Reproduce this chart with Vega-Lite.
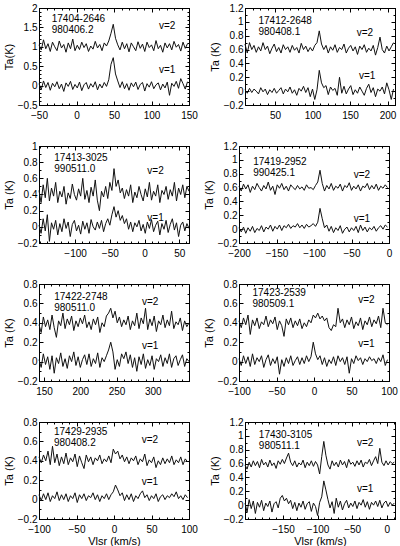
{
"$schema":"https://vega.github.io/schema/vega-lite/v6.json",
"padding":{"left":2,"top":2,"right":2,"bottom":2},
"spacing":19,
"config":{
 "font":"Liberation Sans",
 "view":{"stroke":"black","strokeWidth":1},
 "axis":{"grid":false,"domainColor":"black","tickColor":"black","labelColor":"black","titleColor":"black","labelFontSize":10,"titleFontSize":11,"titleFontWeight":"normal","tickSize":-4,"labelPadding":6,"labelFlush":false,"labelOverlap":false,"titlePadding":3},
 "axisX":{"labelPadding":9,"titlePadding":1},
 "line":{"color":"#111","strokeWidth":1},
 "text":{"fontSize":10,"color":"black","align":"left","font":"Liberation Sans"}
},
"datasets":{
"p1b":[{"x":-50,"y":1.05},{"x":-47,"y":0.92},{"x":-44,"y":1.18},{"x":-41,"y":0.95},{"x":-38,"y":1.08},{"x":-35,"y":0.88},{"x":-32,"y":1.12},{"x":-29,"y":1.0},{"x":-26,"y":0.9},{"x":-23,"y":1.15},{"x":-20,"y":0.97},{"x":-17,"y":1.06},{"x":-14,"y":0.86},{"x":-11,"y":1.1},{"x":-8,"y":0.95},{"x":-5,"y":1.2},{"x":-2,"y":0.9},{"x":1,"y":1.04},{"x":4,"y":0.93},{"x":7,"y":1.12},{"x":10,"y":0.98},{"x":13,"y":1.08},{"x":16,"y":0.88},{"x":19,"y":1.02},{"x":22,"y":0.94},{"x":25,"y":1.14},{"x":28,"y":0.97},{"x":31,"y":1.06},{"x":34,"y":0.9},{"x":37,"y":1.1},{"x":40,"y":1.02},{"x":43,"y":1.15},{"x":46,"y":1.35},{"x":49,"y":1.58},{"x":52,"y":1.22},{"x":55,"y":1.05},{"x":58,"y":0.92},{"x":61,"y":1.12},{"x":64,"y":0.95},{"x":67,"y":1.08},{"x":70,"y":0.87},{"x":73,"y":1.1},{"x":76,"y":1.0},{"x":79,"y":0.9},{"x":82,"y":1.13},{"x":85,"y":0.96},{"x":88,"y":1.07},{"x":91,"y":0.88},{"x":94,"y":1.12},{"x":97,"y":0.98},{"x":100,"y":1.05},{"x":103,"y":0.9},{"x":106,"y":1.16},{"x":109,"y":0.95},{"x":112,"y":1.04},{"x":115,"y":0.86},{"x":118,"y":1.1},{"x":121,"y":0.97},{"x":124,"y":1.08},{"x":127,"y":0.92},{"x":130,"y":1.14},{"x":133,"y":0.99},{"x":136,"y":1.06},{"x":139,"y":0.89},{"x":142,"y":1.12},{"x":145,"y":0.96},{"x":148,"y":1.08}],
"p1a":[{"x":-50,"y":0.05},{"x":-47,"y":-0.1},{"x":-44,"y":0.12},{"x":-41,"y":-0.05},{"x":-38,"y":0.08},{"x":-35,"y":-0.12},{"x":-32,"y":0.06},{"x":-29,"y":-0.03},{"x":-26,"y":0.1},{"x":-23,"y":-0.08},{"x":-20,"y":0.04},{"x":-17,"y":-0.15},{"x":-14,"y":0.07},{"x":-11,"y":-0.02},{"x":-8,"y":0.11},{"x":-5,"y":-0.1},{"x":-2,"y":0.03},{"x":1,"y":-0.06},{"x":4,"y":0.09},{"x":7,"y":-0.13},{"x":10,"y":0.02},{"x":13,"y":0.08},{"x":16,"y":-0.09},{"x":19,"y":0.05},{"x":22,"y":-0.04},{"x":25,"y":0.1},{"x":28,"y":-0.11},{"x":31,"y":0.04},{"x":34,"y":-0.06},{"x":37,"y":0.08},{"x":40,"y":-0.02},{"x":43,"y":0.15},{"x":46,"y":0.55},{"x":49,"y":0.72},{"x":52,"y":0.3},{"x":55,"y":0.12},{"x":58,"y":-0.05},{"x":61,"y":0.1},{"x":64,"y":-0.08},{"x":67,"y":0.05},{"x":70,"y":-0.12},{"x":73,"y":0.07},{"x":76,"y":-0.03},{"x":79,"y":0.09},{"x":82,"y":-0.1},{"x":85,"y":0.03},{"x":88,"y":0.08},{"x":91,"y":-0.14},{"x":94,"y":0.05},{"x":97,"y":-0.04},{"x":100,"y":0.1},{"x":103,"y":-0.08},{"x":106,"y":0.02},{"x":109,"y":0.07},{"x":112,"y":-0.11},{"x":115,"y":0.04},{"x":118,"y":-0.06},{"x":121,"y":0.09},{"x":124,"y":-0.25},{"x":127,"y":0.06},{"x":130,"y":-0.02},{"x":133,"y":0.11},{"x":136,"y":-0.07},{"x":139,"y":0.18},{"x":142,"y":0.05},{"x":145,"y":-0.09},{"x":148,"y":0.1}],
"p2b":[{"x":10,"y":0.68},{"x":13,"y":0.55},{"x":16,"y":0.7},{"x":19,"y":0.6},{"x":22,"y":0.66},{"x":25,"y":0.56},{"x":28,"y":0.64},{"x":31,"y":0.58},{"x":34,"y":0.7},{"x":37,"y":0.6},{"x":40,"y":0.65},{"x":43,"y":0.54},{"x":46,"y":0.62},{"x":49,"y":0.68},{"x":52,"y":0.57},{"x":55,"y":0.63},{"x":58,"y":0.55},{"x":61,"y":0.67},{"x":64,"y":0.6},{"x":67,"y":0.64},{"x":70,"y":0.56},{"x":73,"y":0.66},{"x":76,"y":0.59},{"x":79,"y":0.63},{"x":82,"y":0.55},{"x":85,"y":0.69},{"x":88,"y":0.6},{"x":91,"y":0.65},{"x":94,"y":0.57},{"x":97,"y":0.63},{"x":100,"y":0.58},{"x":103,"y":0.66},{"x":106,"y":0.7},{"x":109,"y":0.87},{"x":112,"y":0.68},{"x":115,"y":0.6},{"x":118,"y":0.66},{"x":121,"y":0.55},{"x":124,"y":0.64},{"x":127,"y":0.59},{"x":130,"y":0.67},{"x":133,"y":0.56},{"x":136,"y":0.63},{"x":139,"y":0.6},{"x":142,"y":0.68},{"x":145,"y":0.55},{"x":148,"y":0.62},{"x":151,"y":0.66},{"x":154,"y":0.58},{"x":157,"y":0.64},{"x":160,"y":0.53},{"x":163,"y":0.65},{"x":166,"y":0.6},{"x":169,"y":0.67},{"x":172,"y":0.56},{"x":175,"y":0.62},{"x":178,"y":0.58},{"x":181,"y":0.66},{"x":184,"y":0.52},{"x":187,"y":0.63},{"x":190,"y":0.78},{"x":193,"y":0.6},{"x":196,"y":0.55},{"x":199,"y":0.65},{"x":202,"y":0.58},{"x":205,"y":0.64},{"x":208,"y":0.7}],
"p2a":[{"x":10,"y":0.02},{"x":13,"y":-0.03},{"x":16,"y":0.04},{"x":19,"y":-0.02},{"x":22,"y":0.03},{"x":25,"y":0.0},{"x":28,"y":-0.04},{"x":31,"y":0.05},{"x":34,"y":-0.01},{"x":37,"y":0.03},{"x":40,"y":-0.05},{"x":43,"y":0.02},{"x":46,"y":-0.02},{"x":49,"y":0.04},{"x":52,"y":-0.03},{"x":55,"y":0.01},{"x":58,"y":0.05},{"x":61,"y":-0.04},{"x":64,"y":0.03},{"x":67,"y":-0.01},{"x":70,"y":0.06},{"x":73,"y":-0.03},{"x":76,"y":0.02},{"x":79,"y":-0.06},{"x":82,"y":0.04},{"x":85,"y":0.0},{"x":88,"y":0.07},{"x":91,"y":-0.02},{"x":94,"y":0.05},{"x":97,"y":-0.08},{"x":100,"y":0.03},{"x":103,"y":-0.12},{"x":106,"y":0.02},{"x":109,"y":0.3},{"x":112,"y":0.12},{"x":115,"y":0.05},{"x":118,"y":0.08},{"x":121,"y":-0.05},{"x":124,"y":0.06},{"x":127,"y":0.01},{"x":130,"y":0.04},{"x":133,"y":-0.06},{"x":136,"y":0.2},{"x":139,"y":-0.03},{"x":142,"y":0.07},{"x":145,"y":-0.04},{"x":148,"y":0.03},{"x":151,"y":0.08},{"x":154,"y":-0.05},{"x":157,"y":0.02},{"x":160,"y":-0.03},{"x":163,"y":0.06},{"x":166,"y":0.0},{"x":169,"y":-0.06},{"x":172,"y":0.04},{"x":175,"y":0.1},{"x":178,"y":-0.02},{"x":181,"y":0.05},{"x":184,"y":-0.08},{"x":187,"y":0.03},{"x":190,"y":0.0},{"x":193,"y":0.06},{"x":196,"y":-0.04},{"x":199,"y":0.12},{"x":202,"y":0.02},{"x":205,"y":-0.12},{"x":208,"y":0.03}],
"p3b":[{"x":-152,"y":0.45},{"x":-149,"y":0.3},{"x":-146,"y":0.52},{"x":-143,"y":0.36},{"x":-140,"y":0.6},{"x":-137,"y":0.32},{"x":-134,"y":0.48},{"x":-131,"y":0.38},{"x":-128,"y":0.55},{"x":-125,"y":0.3},{"x":-122,"y":0.44},{"x":-119,"y":0.37},{"x":-116,"y":0.5},{"x":-113,"y":0.28},{"x":-110,"y":0.42},{"x":-107,"y":0.35},{"x":-104,"y":0.53},{"x":-101,"y":0.4},{"x":-98,"y":0.33},{"x":-95,"y":0.47},{"x":-92,"y":0.38},{"x":-89,"y":0.6},{"x":-86,"y":0.34},{"x":-83,"y":0.45},{"x":-80,"y":0.3},{"x":-77,"y":0.49},{"x":-74,"y":0.38},{"x":-71,"y":0.58},{"x":-68,"y":0.33},{"x":-65,"y":0.2},{"x":-62,"y":0.44},{"x":-59,"y":0.37},{"x":-56,"y":0.5},{"x":-53,"y":0.35},{"x":-50,"y":0.55},{"x":-47,"y":0.45},{"x":-44,"y":0.72},{"x":-41,"y":0.5},{"x":-38,"y":0.58},{"x":-35,"y":0.42},{"x":-32,"y":0.48},{"x":-29,"y":0.35},{"x":-26,"y":0.46},{"x":-23,"y":0.38},{"x":-20,"y":0.52},{"x":-17,"y":0.3},{"x":-14,"y":0.43},{"x":-11,"y":0.36},{"x":-8,"y":0.5},{"x":-5,"y":0.4},{"x":-2,"y":0.32},{"x":1,"y":0.47},{"x":4,"y":0.37},{"x":7,"y":0.55},{"x":10,"y":0.33},{"x":13,"y":0.44},{"x":16,"y":0.38},{"x":19,"y":0.52},{"x":22,"y":0.3},{"x":25,"y":0.45},{"x":28,"y":0.4},{"x":31,"y":0.5},{"x":34,"y":0.34},{"x":37,"y":0.46},{"x":40,"y":0.38},{"x":43,"y":0.55},{"x":46,"y":0.32},{"x":49,"y":0.48},{"x":52,"y":0.4},{"x":55,"y":0.52},{"x":58,"y":0.36},{"x":61,"y":0.5},{"x":64,"y":0.44}],
"p3a":[{"x":-152,"y":0.02},{"x":-149,"y":-0.08},{"x":-146,"y":0.1},{"x":-143,"y":-0.05},{"x":-140,"y":0.15},{"x":-137,"y":-0.18},{"x":-134,"y":0.05},{"x":-131,"y":-0.03},{"x":-128,"y":0.08},{"x":-125,"y":-0.1},{"x":-122,"y":0.04},{"x":-119,"y":-0.06},{"x":-116,"y":0.1},{"x":-113,"y":-0.02},{"x":-110,"y":0.06},{"x":-107,"y":-0.12},{"x":-104,"y":0.03},{"x":-101,"y":0.08},{"x":-98,"y":-0.05},{"x":-95,"y":0.02},{"x":-92,"y":-0.09},{"x":-89,"y":0.07},{"x":-86,"y":-0.03},{"x":-83,"y":0.05},{"x":-80,"y":-0.08},{"x":-77,"y":0.09},{"x":-74,"y":0.0},{"x":-71,"y":-0.04},{"x":-68,"y":0.06},{"x":-65,"y":-0.02},{"x":-62,"y":0.08},{"x":-59,"y":-0.06},{"x":-56,"y":0.04},{"x":-53,"y":0.1},{"x":-50,"y":0.02},{"x":-47,"y":0.15},{"x":-44,"y":0.25},{"x":-41,"y":0.12},{"x":-38,"y":0.2},{"x":-35,"y":0.08},{"x":-32,"y":0.14},{"x":-29,"y":0.04},{"x":-26,"y":0.1},{"x":-23,"y":-0.03},{"x":-20,"y":0.06},{"x":-17,"y":-0.06},{"x":-14,"y":0.05},{"x":-11,"y":0.0},{"x":-8,"y":0.08},{"x":-5,"y":-0.05},{"x":-2,"y":0.03},{"x":1,"y":-0.08},{"x":4,"y":0.06},{"x":7,"y":-0.02},{"x":10,"y":0.09},{"x":13,"y":-0.06},{"x":16,"y":0.02},{"x":19,"y":0.07},{"x":22,"y":-0.1},{"x":25,"y":0.04},{"x":28,"y":-0.03},{"x":31,"y":0.08},{"x":34,"y":-0.07},{"x":37,"y":0.03},{"x":40,"y":0.1},{"x":43,"y":-0.04},{"x":46,"y":0.05},{"x":49,"y":-0.12},{"x":52,"y":0.02},{"x":55,"y":0.06},{"x":58,"y":-0.05},{"x":61,"y":0.04},{"x":64,"y":-0.02}],
"p4b":[{"x":-200,"y":0.62},{"x":-197,"y":0.55},{"x":-194,"y":0.65},{"x":-191,"y":0.58},{"x":-188,"y":0.64},{"x":-185,"y":0.53},{"x":-182,"y":0.62},{"x":-179,"y":0.57},{"x":-176,"y":0.66},{"x":-173,"y":0.6},{"x":-170,"y":0.55},{"x":-167,"y":0.63},{"x":-164,"y":0.58},{"x":-161,"y":0.68},{"x":-158,"y":0.56},{"x":-155,"y":0.62},{"x":-152,"y":0.5},{"x":-149,"y":0.64},{"x":-146,"y":0.59},{"x":-143,"y":0.66},{"x":-140,"y":0.57},{"x":-137,"y":0.62},{"x":-134,"y":0.55},{"x":-131,"y":0.64},{"x":-128,"y":0.6},{"x":-125,"y":0.57},{"x":-122,"y":0.63},{"x":-119,"y":0.58},{"x":-116,"y":0.61},{"x":-113,"y":0.56},{"x":-110,"y":0.64},{"x":-107,"y":0.59},{"x":-104,"y":0.6},{"x":-101,"y":0.57},{"x":-98,"y":0.63},{"x":-95,"y":0.68},{"x":-92,"y":0.85},{"x":-89,"y":0.66},{"x":-86,"y":0.55},{"x":-83,"y":0.63},{"x":-80,"y":0.58},{"x":-77,"y":0.66},{"x":-74,"y":0.56},{"x":-71,"y":0.62},{"x":-68,"y":0.59},{"x":-65,"y":0.65},{"x":-62,"y":0.55},{"x":-59,"y":0.63},{"x":-56,"y":0.6},{"x":-53,"y":0.67},{"x":-50,"y":0.56},{"x":-47,"y":0.62},{"x":-44,"y":0.58},{"x":-41,"y":0.64},{"x":-38,"y":0.55},{"x":-35,"y":0.62},{"x":-32,"y":0.6},{"x":-29,"y":0.66},{"x":-26,"y":0.57},{"x":-23,"y":0.63},{"x":-20,"y":0.58},{"x":-17,"y":0.65},{"x":-14,"y":0.56},{"x":-11,"y":0.62},{"x":-8,"y":0.59},{"x":-5,"y":0.64},{"x":-2,"y":0.6}],
"p4a":[{"x":-200,"y":0.02},{"x":-197,"y":-0.04},{"x":-194,"y":0.03},{"x":-191,"y":-0.06},{"x":-188,"y":0.02},{"x":-185,"y":-0.03},{"x":-182,"y":0.04},{"x":-179,"y":-0.05},{"x":-176,"y":0.01},{"x":-173,"y":-0.02},{"x":-170,"y":0.05},{"x":-167,"y":-0.04},{"x":-164,"y":0.03},{"x":-161,"y":0.0},{"x":-158,"y":0.06},{"x":-155,"y":-0.03},{"x":-152,"y":0.04},{"x":-149,"y":0.0},{"x":-146,"y":0.06},{"x":-143,"y":-0.02},{"x":-140,"y":0.05},{"x":-137,"y":0.02},{"x":-134,"y":0.07},{"x":-131,"y":0.01},{"x":-128,"y":0.05},{"x":-125,"y":0.03},{"x":-122,"y":0.08},{"x":-119,"y":0.02},{"x":-116,"y":0.06},{"x":-113,"y":0.01},{"x":-110,"y":0.07},{"x":-107,"y":0.03},{"x":-104,"y":0.05},{"x":-101,"y":0.08},{"x":-98,"y":0.04},{"x":-95,"y":0.1},{"x":-92,"y":0.3},{"x":-89,"y":0.15},{"x":-86,"y":0.02},{"x":-83,"y":0.06},{"x":-80,"y":-0.03},{"x":-77,"y":0.04},{"x":-74,"y":-0.05},{"x":-71,"y":0.02},{"x":-68,"y":-0.02},{"x":-65,"y":0.05},{"x":-62,"y":-0.06},{"x":-59,"y":0.0},{"x":-56,"y":0.03},{"x":-53,"y":-0.04},{"x":-50,"y":0.02},{"x":-47,"y":-0.02},{"x":-44,"y":0.04},{"x":-41,"y":-0.05},{"x":-38,"y":0.06},{"x":-35,"y":-0.02},{"x":-32,"y":0.03},{"x":-29,"y":-0.04},{"x":-26,"y":0.02},{"x":-23,"y":-0.01},{"x":-20,"y":0.04},{"x":-17,"y":-0.03},{"x":-14,"y":0.02},{"x":-11,"y":0.05},{"x":-8,"y":0.0},{"x":-5,"y":0.06},{"x":-2,"y":0.03}],
"p5b":[{"x":143,"y":0.38},{"x":146,"y":0.3},{"x":149,"y":0.46},{"x":152,"y":0.36},{"x":155,"y":0.43},{"x":158,"y":0.33},{"x":161,"y":0.48},{"x":164,"y":0.35},{"x":167,"y":0.25},{"x":170,"y":0.42},{"x":173,"y":0.37},{"x":176,"y":0.5},{"x":179,"y":0.34},{"x":182,"y":0.44},{"x":185,"y":0.38},{"x":188,"y":0.47},{"x":191,"y":0.32},{"x":194,"y":0.42},{"x":197,"y":0.36},{"x":200,"y":0.45},{"x":203,"y":0.39},{"x":206,"y":0.48},{"x":209,"y":0.35},{"x":212,"y":0.41},{"x":215,"y":0.33},{"x":218,"y":0.44},{"x":221,"y":0.38},{"x":224,"y":0.46},{"x":227,"y":0.3},{"x":230,"y":0.4},{"x":233,"y":0.36},{"x":236,"y":0.47},{"x":239,"y":0.5},{"x":242,"y":0.55},{"x":245,"y":0.45},{"x":248,"y":0.52},{"x":251,"y":0.4},{"x":254,"y":0.46},{"x":257,"y":0.36},{"x":260,"y":0.43},{"x":263,"y":0.38},{"x":266,"y":0.47},{"x":269,"y":0.33},{"x":272,"y":0.42},{"x":275,"y":0.37},{"x":278,"y":0.5},{"x":281,"y":0.34},{"x":284,"y":0.45},{"x":287,"y":0.39},{"x":290,"y":0.55},{"x":293,"y":0.33},{"x":296,"y":0.44},{"x":299,"y":0.37},{"x":302,"y":0.47},{"x":305,"y":0.31},{"x":308,"y":0.42},{"x":311,"y":0.38},{"x":314,"y":0.48},{"x":317,"y":0.35},{"x":320,"y":0.43},{"x":323,"y":0.37},{"x":326,"y":0.52},{"x":329,"y":0.34},{"x":332,"y":0.41},{"x":335,"y":0.38},{"x":338,"y":0.45},{"x":341,"y":0.32},{"x":344,"y":0.42},{"x":347,"y":0.36},{"x":350,"y":0.4}],
"p5a":[{"x":143,"y":0.02},{"x":146,"y":-0.06},{"x":149,"y":0.08},{"x":152,"y":-0.03},{"x":155,"y":0.05},{"x":158,"y":-0.08},{"x":161,"y":0.06},{"x":164,"y":-0.12},{"x":167,"y":0.04},{"x":170,"y":-0.02},{"x":173,"y":0.09},{"x":176,"y":-0.05},{"x":179,"y":0.03},{"x":182,"y":-0.07},{"x":185,"y":0.06},{"x":188,"y":0.0},{"x":191,"y":0.1},{"x":194,"y":-0.04},{"x":197,"y":0.05},{"x":200,"y":-0.06},{"x":203,"y":0.02},{"x":206,"y":0.07},{"x":209,"y":-0.03},{"x":212,"y":0.08},{"x":215,"y":-0.05},{"x":218,"y":0.03},{"x":221,"y":-0.02},{"x":224,"y":0.09},{"x":227,"y":-0.06},{"x":230,"y":0.04},{"x":233,"y":0.0},{"x":236,"y":0.06},{"x":239,"y":0.12},{"x":242,"y":0.2},{"x":245,"y":0.1},{"x":248,"y":-0.08},{"x":251,"y":0.02},{"x":254,"y":-0.05},{"x":257,"y":0.08},{"x":260,"y":0.03},{"x":263,"y":0.1},{"x":266,"y":-0.02},{"x":269,"y":0.07},{"x":272,"y":-0.06},{"x":275,"y":0.04},{"x":278,"y":-0.1},{"x":281,"y":0.05},{"x":284,"y":-0.03},{"x":287,"y":0.08},{"x":290,"y":-0.07},{"x":293,"y":0.02},{"x":296,"y":-0.04},{"x":299,"y":0.06},{"x":302,"y":-0.08},{"x":305,"y":0.03},{"x":308,"y":0.0},{"x":311,"y":0.07},{"x":314,"y":-0.05},{"x":317,"y":0.04},{"x":320,"y":-0.02},{"x":323,"y":0.08},{"x":326,"y":-0.06},{"x":329,"y":0.03},{"x":332,"y":0.06},{"x":335,"y":-0.04},{"x":338,"y":0.02},{"x":341,"y":0.07},{"x":344,"y":-0.05},{"x":347,"y":0.03},{"x":350,"y":0.0}],
"p6b":[{"x":-100,"y":0.42},{"x":-97,"y":0.35},{"x":-94,"y":0.45},{"x":-91,"y":0.38},{"x":-88,"y":0.48},{"x":-85,"y":0.28},{"x":-82,"y":0.43},{"x":-79,"y":0.37},{"x":-76,"y":0.45},{"x":-73,"y":0.34},{"x":-70,"y":0.41},{"x":-67,"y":0.38},{"x":-64,"y":0.47},{"x":-61,"y":0.36},{"x":-58,"y":0.43},{"x":-55,"y":0.39},{"x":-52,"y":0.46},{"x":-49,"y":0.33},{"x":-46,"y":0.42},{"x":-43,"y":0.37},{"x":-40,"y":0.26},{"x":-37,"y":0.44},{"x":-34,"y":0.38},{"x":-31,"y":0.45},{"x":-28,"y":0.35},{"x":-25,"y":0.42},{"x":-22,"y":0.37},{"x":-19,"y":0.44},{"x":-16,"y":0.34},{"x":-13,"y":0.4},{"x":-10,"y":0.36},{"x":-7,"y":0.43},{"x":-4,"y":0.4},{"x":-1,"y":0.48},{"x":2,"y":0.45},{"x":5,"y":0.5},{"x":8,"y":0.44},{"x":11,"y":0.47},{"x":14,"y":0.42},{"x":17,"y":0.45},{"x":20,"y":0.35},{"x":23,"y":0.32},{"x":26,"y":0.38},{"x":29,"y":0.36},{"x":32,"y":0.55},{"x":35,"y":0.4},{"x":38,"y":0.44},{"x":41,"y":0.35},{"x":44,"y":0.43},{"x":47,"y":0.38},{"x":50,"y":0.46},{"x":53,"y":0.34},{"x":56,"y":0.41},{"x":59,"y":0.37},{"x":62,"y":0.45},{"x":65,"y":0.33},{"x":68,"y":0.42},{"x":71,"y":0.38},{"x":74,"y":0.46},{"x":77,"y":0.36},{"x":80,"y":0.43},{"x":83,"y":0.39},{"x":86,"y":0.47},{"x":89,"y":0.35},{"x":92,"y":0.55},{"x":95,"y":0.4},{"x":98,"y":0.38}],
"p6a":[{"x":-100,"y":0.03},{"x":-97,"y":-0.04},{"x":-94,"y":0.06},{"x":-91,"y":-0.02},{"x":-88,"y":0.05},{"x":-85,"y":-0.05},{"x":-82,"y":0.08},{"x":-79,"y":-0.03},{"x":-76,"y":0.04},{"x":-73,"y":0.0},{"x":-70,"y":0.06},{"x":-67,"y":-0.06},{"x":-64,"y":0.02},{"x":-61,"y":0.07},{"x":-58,"y":-0.04},{"x":-55,"y":0.03},{"x":-52,"y":-0.02},{"x":-49,"y":0.05},{"x":-46,"y":-0.13},{"x":-43,"y":0.02},{"x":-40,"y":-0.05},{"x":-37,"y":0.04},{"x":-34,"y":-0.02},{"x":-31,"y":0.06},{"x":-28,"y":-0.04},{"x":-25,"y":0.01},{"x":-22,"y":0.05},{"x":-19,"y":-0.03},{"x":-16,"y":0.04},{"x":-13,"y":-0.02},{"x":-10,"y":0.06},{"x":-7,"y":0.0},{"x":-4,"y":0.05},{"x":-1,"y":0.2},{"x":2,"y":0.08},{"x":5,"y":0.02},{"x":8,"y":0.06},{"x":11,"y":-0.03},{"x":14,"y":0.04},{"x":17,"y":-0.05},{"x":20,"y":0.02},{"x":23,"y":-0.02},{"x":26,"y":0.05},{"x":29,"y":-0.04},{"x":32,"y":0.06},{"x":35,"y":0.0},{"x":38,"y":0.04},{"x":41,"y":-0.03},{"x":44,"y":0.05},{"x":47,"y":-0.12},{"x":50,"y":0.03},{"x":53,"y":-0.02},{"x":56,"y":0.06},{"x":59,"y":0.01},{"x":62,"y":0.04},{"x":65,"y":-0.03},{"x":68,"y":0.03},{"x":71,"y":0.0},{"x":74,"y":0.05},{"x":77,"y":0.01},{"x":80,"y":0.03},{"x":83,"y":-0.02},{"x":86,"y":0.04},{"x":89,"y":0.0},{"x":92,"y":0.07},{"x":95,"y":-0.04},{"x":98,"y":0.02}],
"p7b":[{"x":-100,"y":0.44},{"x":-97,"y":0.38},{"x":-94,"y":0.46},{"x":-91,"y":0.4},{"x":-88,"y":0.5},{"x":-85,"y":0.36},{"x":-82,"y":0.55},{"x":-79,"y":0.38},{"x":-76,"y":0.47},{"x":-73,"y":0.35},{"x":-70,"y":0.44},{"x":-67,"y":0.37},{"x":-64,"y":0.48},{"x":-61,"y":0.36},{"x":-58,"y":0.43},{"x":-55,"y":0.39},{"x":-52,"y":0.47},{"x":-49,"y":0.34},{"x":-46,"y":0.45},{"x":-43,"y":0.38},{"x":-40,"y":0.32},{"x":-37,"y":0.46},{"x":-34,"y":0.39},{"x":-31,"y":0.44},{"x":-28,"y":0.36},{"x":-25,"y":0.43},{"x":-22,"y":0.4},{"x":-19,"y":0.46},{"x":-16,"y":0.37},{"x":-13,"y":0.42},{"x":-10,"y":0.39},{"x":-7,"y":0.45},{"x":-4,"y":0.38},{"x":-1,"y":0.52},{"x":2,"y":0.47},{"x":5,"y":0.5},{"x":8,"y":0.42},{"x":11,"y":0.46},{"x":14,"y":0.39},{"x":17,"y":0.44},{"x":20,"y":0.37},{"x":23,"y":0.43},{"x":26,"y":0.4},{"x":29,"y":0.45},{"x":32,"y":0.36},{"x":35,"y":0.42},{"x":38,"y":0.39},{"x":41,"y":0.47},{"x":44,"y":0.35},{"x":47,"y":0.41},{"x":50,"y":0.38},{"x":53,"y":0.44},{"x":56,"y":0.33},{"x":59,"y":0.4},{"x":62,"y":0.36},{"x":65,"y":0.43},{"x":68,"y":0.37},{"x":71,"y":0.42},{"x":74,"y":0.38},{"x":77,"y":0.45},{"x":80,"y":0.36},{"x":83,"y":0.41},{"x":86,"y":0.38},{"x":89,"y":0.44},{"x":92,"y":0.36},{"x":95,"y":0.42},{"x":98,"y":0.39}],
"p7a":[{"x":-100,"y":0.05},{"x":-97,"y":-0.01},{"x":-94,"y":0.06},{"x":-91,"y":0.0},{"x":-88,"y":0.07},{"x":-85,"y":-0.02},{"x":-82,"y":0.04},{"x":-79,"y":0.01},{"x":-76,"y":0.08},{"x":-73,"y":-0.01},{"x":-70,"y":0.05},{"x":-67,"y":0.0},{"x":-64,"y":0.06},{"x":-61,"y":-0.02},{"x":-58,"y":0.04},{"x":-55,"y":0.01},{"x":-52,"y":0.07},{"x":-49,"y":-0.03},{"x":-46,"y":0.05},{"x":-43,"y":0.01},{"x":-40,"y":0.06},{"x":-37,"y":-0.01},{"x":-34,"y":0.04},{"x":-31,"y":0.02},{"x":-28,"y":0.07},{"x":-25,"y":0.0},{"x":-22,"y":0.05},{"x":-19,"y":-0.02},{"x":-16,"y":0.04},{"x":-13,"y":0.01},{"x":-10,"y":0.06},{"x":-7,"y":0.0},{"x":-4,"y":0.05},{"x":-1,"y":0.08},{"x":2,"y":0.15},{"x":5,"y":0.1},{"x":8,"y":0.04},{"x":11,"y":0.07},{"x":14,"y":-0.01},{"x":17,"y":0.05},{"x":20,"y":0.0},{"x":23,"y":0.06},{"x":26,"y":-0.02},{"x":29,"y":0.04},{"x":32,"y":0.01},{"x":35,"y":0.06},{"x":38,"y":0.09},{"x":41,"y":0.02},{"x":44,"y":0.05},{"x":47,"y":-0.01},{"x":50,"y":0.04},{"x":53,"y":0.01},{"x":56,"y":0.06},{"x":59,"y":-0.02},{"x":62,"y":0.03},{"x":65,"y":0.05},{"x":68,"y":0.0},{"x":71,"y":0.04},{"x":74,"y":0.02},{"x":77,"y":0.06},{"x":80,"y":0.03},{"x":83,"y":0.08},{"x":86,"y":0.01},{"x":89,"y":0.04},{"x":92,"y":0.0},{"x":95,"y":0.05},{"x":98,"y":0.02}],
"p8b":[{"x":-205,"y":0.58},{"x":-202,"y":0.52},{"x":-199,"y":0.62},{"x":-196,"y":0.55},{"x":-193,"y":0.64},{"x":-190,"y":0.57},{"x":-187,"y":0.63},{"x":-184,"y":0.54},{"x":-181,"y":0.66},{"x":-178,"y":0.58},{"x":-175,"y":0.62},{"x":-172,"y":0.55},{"x":-169,"y":0.65},{"x":-166,"y":0.57},{"x":-163,"y":0.61},{"x":-160,"y":0.53},{"x":-157,"y":0.64},{"x":-154,"y":0.59},{"x":-151,"y":0.66},{"x":-148,"y":0.6},{"x":-145,"y":0.68},{"x":-142,"y":0.75},{"x":-139,"y":0.62},{"x":-136,"y":0.57},{"x":-133,"y":0.64},{"x":-130,"y":0.55},{"x":-127,"y":0.61},{"x":-124,"y":0.58},{"x":-121,"y":0.65},{"x":-118,"y":0.54},{"x":-115,"y":0.62},{"x":-112,"y":0.57},{"x":-109,"y":0.64},{"x":-106,"y":0.56},{"x":-103,"y":0.63},{"x":-100,"y":0.58},{"x":-97,"y":0.45},{"x":-94,"y":0.7},{"x":-91,"y":0.92},{"x":-88,"y":0.72},{"x":-85,"y":0.58},{"x":-82,"y":0.52},{"x":-79,"y":0.64},{"x":-76,"y":0.57},{"x":-73,"y":0.62},{"x":-70,"y":0.55},{"x":-67,"y":0.65},{"x":-64,"y":0.58},{"x":-61,"y":0.63},{"x":-58,"y":0.54},{"x":-55,"y":0.66},{"x":-52,"y":0.59},{"x":-49,"y":0.62},{"x":-46,"y":0.56},{"x":-43,"y":0.64},{"x":-40,"y":0.58},{"x":-37,"y":0.65},{"x":-34,"y":0.55},{"x":-31,"y":0.62},{"x":-28,"y":0.6},{"x":-25,"y":0.66},{"x":-22,"y":0.57},{"x":-19,"y":0.64},{"x":-16,"y":0.7},{"x":-13,"y":0.6},{"x":-10,"y":0.82},{"x":-7,"y":0.62},{"x":-4,"y":0.57},{"x":-1,"y":0.64},{"x":2,"y":0.58},{"x":5,"y":0.63},{"x":8,"y":0.6},{"x":11,"y":0.62}],
"p8a":[{"x":-205,"y":0.03},{"x":-202,"y":-0.1},{"x":-199,"y":0.08},{"x":-196,"y":-0.05},{"x":-193,"y":0.06},{"x":-190,"y":-0.12},{"x":-187,"y":0.04},{"x":-184,"y":-0.03},{"x":-181,"y":0.07},{"x":-178,"y":-0.08},{"x":-175,"y":0.03},{"x":-172,"y":-0.02},{"x":-169,"y":0.06},{"x":-166,"y":-0.1},{"x":-163,"y":0.02},{"x":-160,"y":0.05},{"x":-157,"y":-0.04},{"x":-154,"y":0.1},{"x":-151,"y":0.14},{"x":-148,"y":0.06},{"x":-145,"y":0.1},{"x":-142,"y":0.02},{"x":-139,"y":0.07},{"x":-136,"y":-0.05},{"x":-133,"y":0.04},{"x":-130,"y":-0.08},{"x":-127,"y":0.03},{"x":-124,"y":-0.03},{"x":-121,"y":0.06},{"x":-118,"y":-0.06},{"x":-115,"y":0.02},{"x":-112,"y":0.05},{"x":-109,"y":-0.09},{"x":-106,"y":0.03},{"x":-103,"y":-0.02},{"x":-100,"y":-0.15},{"x":-97,"y":0.04},{"x":-94,"y":0.12},{"x":-91,"y":0.35},{"x":-88,"y":0.22},{"x":-85,"y":0.08},{"x":-82,"y":-0.04},{"x":-79,"y":0.05},{"x":-76,"y":-0.12},{"x":-73,"y":0.1},{"x":-70,"y":-0.03},{"x":-67,"y":0.06},{"x":-64,"y":-0.07},{"x":-61,"y":0.02},{"x":-58,"y":0.07},{"x":-55,"y":-0.04},{"x":-52,"y":0.03},{"x":-49,"y":-0.02},{"x":-46,"y":0.06},{"x":-43,"y":-0.05},{"x":-40,"y":0.04},{"x":-37,"y":0.0},{"x":-34,"y":0.08},{"x":-31,"y":-0.03},{"x":-28,"y":0.05},{"x":-25,"y":-0.06},{"x":-22,"y":0.04},{"x":-19,"y":0.0},{"x":-16,"y":0.06},{"x":-13,"y":-0.02},{"x":-10,"y":0.07},{"x":-7,"y":-0.04},{"x":-4,"y":0.03},{"x":-1,"y":0.06},{"x":2,"y":-0.02},{"x":5,"y":0.04},{"x":8,"y":0.0},{"x":11,"y":0.03}]
},
"vconcat":[
{"spacing":10,"hconcat":[
{"width":150,"height":97,"layer":[
 {"data":{"name":"p1b"},"mark":"line","encoding":{"x":{"field":"x","type":"quantitative","scale":{"domain":[-50,150],"nice":false,"zero":false},"axis":{"orient":"bottom","values":[-50,0,50,100,150],"title":null,"format":"~r"}},"y":{"field":"y","type":"quantitative","scale":{"domain":[-0.5,2],"nice":false,"zero":false},"axis":{"orient":"left","values":[-0.5,0,0.5,1,1.5,2],"title":"Ta(K)","format":"~r"}}}},
 {"data":{"name":"p1a"},"mark":"line","encoding":{"x":{"field":"x","type":"quantitative","axis":{"orient":"top","values":[-50,0,50,100,150],"labels":false,"title":null}},"y":{"field":"y","type":"quantitative","axis":{"orient":"right","values":[-0.5,0,0.5,1,1.5,2],"labels":false,"title":null}}}},
 {"data":{"values":[{}]},"mark":{"type":"text","baseline":"top","lineHeight":11,"text":["17404-2646","980406.2"]},"encoding":{"x":{"datum":-33,"axis":{"orient":"bottom","values":[-40,-30,-20,-10,10,20,30,40,60,70,80,90,110,120,130,140],"labels":false,"title":null,"tickSize":-2}},"y":{"datum":1.85,"axis":{"orient":"left","values":[-0.4,-0.3,-0.2,-0.1,0.1,0.2,0.3,0.4,0.6,0.7,0.8,0.9,1.1,1.2,1.3,1.4,1.6,1.7,1.8,1.9],"labels":false,"title":null,"tickSize":-2}}}},
 {"data":{"values":[{}]},"mark":{"type":"text","baseline":"middle","text":"v=2"},"encoding":{"x":{"datum":110,"axis":{"orient":"top","values":[-40,-30,-20,-10,10,20,30,40,60,70,80,90,110,120,130,140],"labels":false,"title":null,"tickSize":-2}},"y":{"datum":1.54,"axis":{"orient":"right","values":[-0.4,-0.3,-0.2,-0.1,0.1,0.2,0.3,0.4,0.6,0.7,0.8,0.9,1.1,1.2,1.3,1.4,1.6,1.7,1.8,1.9],"labels":false,"title":null,"tickSize":-2}}}},
 {"data":{"values":[{}]},"mark":{"type":"text","baseline":"middle","text":"v=1"},"encoding":{"x":{"datum":110,"axis":null},"y":{"datum":0.4,"axis":null}}}
]},
{"width":150,"height":97,"layer":[
 {"data":{"name":"p2b"},"mark":"line","encoding":{"x":{"field":"x","type":"quantitative","scale":{"domain":[10,210],"nice":false,"zero":false},"axis":{"orient":"bottom","values":[50,100,150,200],"title":null,"format":"~r"}},"y":{"field":"y","type":"quantitative","scale":{"domain":[-0.2,1.2],"nice":false,"zero":false},"axis":{"orient":"left","values":[-0.2,0,0.2,0.4,0.6,0.8,1,1.2],"title":"Ta (K)","format":"~r"}}}},
 {"data":{"name":"p2a"},"mark":"line","encoding":{"x":{"field":"x","type":"quantitative","axis":{"orient":"top","values":[50,100,150,200],"labels":false,"title":null}},"y":{"field":"y","type":"quantitative","axis":{"orient":"right","values":[-0.2,0,0.2,0.4,0.6,0.8,1,1.2],"labels":false,"title":null}}}},
 {"data":{"values":[{}]},"mark":{"type":"text","baseline":"top","lineHeight":11,"text":["17412-2648","980408.1"]},"encoding":{"x":{"datum":28,"axis":{"orient":"bottom","values":[20,30,40,60,70,80,90,110,120,130,140,160,170,180,190],"labels":false,"title":null,"tickSize":-2}},"y":{"datum":1.08,"axis":{"orient":"left","values":[-0.1,0.1,0.3,0.5,0.7,0.9,1.1],"labels":false,"title":null,"tickSize":-2}}}},
 {"data":{"values":[{}]},"mark":{"type":"text","baseline":"middle","text":"v=2"},"encoding":{"x":{"datum":159,"axis":{"orient":"top","values":[20,30,40,60,70,80,90,110,120,130,140,160,170,180,190],"labels":false,"title":null,"tickSize":-2}},"y":{"datum":0.84,"axis":{"orient":"right","values":[-0.1,0.1,0.3,0.5,0.7,0.9,1.1],"labels":false,"title":null,"tickSize":-2}}}},
 {"data":{"values":[{}]},"mark":{"type":"text","baseline":"middle","text":"v=1"},"encoding":{"x":{"datum":162,"axis":null},"y":{"datum":0.22,"axis":null}}}
]}
]},
{"spacing":10,"hconcat":[
{"width":150,"height":97,"layer":[
 {"data":{"name":"p3b"},"mark":"line","encoding":{"x":{"field":"x","type":"quantitative","scale":{"domain":[-152,64],"nice":false,"zero":false},"axis":{"orient":"bottom","values":[-100,-50,0,50],"title":null,"format":"~r"}},"y":{"field":"y","type":"quantitative","scale":{"domain":[-0.2,1],"nice":false,"zero":false},"axis":{"orient":"left","values":[-0.2,0,0.2,0.4,0.6,0.8,1],"title":"Ta (K)","format":"~r"}}}},
 {"data":{"name":"p3a"},"mark":"line","encoding":{"x":{"field":"x","type":"quantitative","axis":{"orient":"top","values":[-100,-50,0,50],"labels":false,"title":null}},"y":{"field":"y","type":"quantitative","axis":{"orient":"right","values":[-0.2,0,0.2,0.4,0.6,0.8,1],"labels":false,"title":null}}}},
 {"data":{"values":[{}]},"mark":{"type":"text","baseline":"top","lineHeight":11,"text":["17413-3025","990511.0"]},"encoding":{"x":{"datum":-130,"axis":{"orient":"bottom","values":[-150,-140,-130,-120,-110,-90,-80,-70,-60,-40,-30,-20,-10,10,20,30,40,60],"labels":false,"title":null,"tickSize":-2}},"y":{"datum":0.91,"axis":{"orient":"left","values":[-0.1,0.1,0.3,0.5,0.7,0.9],"labels":false,"title":null,"tickSize":-2}}}},
 {"data":{"values":[{}]},"mark":{"type":"text","baseline":"middle","text":"v=2"},"encoding":{"x":{"datum":4,"axis":{"orient":"top","values":[-150,-140,-130,-120,-110,-90,-80,-70,-60,-40,-30,-20,-10,10,20,30,40,60],"labels":false,"title":null,"tickSize":-2}},"y":{"datum":0.69,"axis":{"orient":"right","values":[-0.1,0.1,0.3,0.5,0.7,0.9],"labels":false,"title":null,"tickSize":-2}}}},
 {"data":{"values":[{}]},"mark":{"type":"text","baseline":"middle","text":"v=1"},"encoding":{"x":{"datum":4,"axis":null},"y":{"datum":0.11,"axis":null}}}
]},
{"width":150,"height":97,"layer":[
 {"data":{"name":"p4b"},"mark":"line","encoding":{"x":{"field":"x","type":"quantitative","scale":{"domain":[-200,0],"nice":false,"zero":false},"axis":{"orient":"bottom","values":[-200,-150,-100,-50,0],"title":null,"format":"~r"}},"y":{"field":"y","type":"quantitative","scale":{"domain":[-0.2,1.2],"nice":false,"zero":false},"axis":{"orient":"left","values":[-0.2,0,0.2,0.4,0.6,0.8,1,1.2],"title":"Ta (K)","format":"~r"}}}},
 {"data":{"name":"p4a"},"mark":"line","encoding":{"x":{"field":"x","type":"quantitative","axis":{"orient":"top","values":[-200,-150,-100,-50,0],"labels":false,"title":null}},"y":{"field":"y","type":"quantitative","axis":{"orient":"right","values":[-0.2,0,0.2,0.4,0.6,0.8,1,1.2],"labels":false,"title":null}}}},
 {"data":{"values":[{}]},"mark":{"type":"text","baseline":"top","lineHeight":11,"text":["17419-2952","990425.1"]},"encoding":{"x":{"datum":-181,"axis":{"orient":"bottom","values":[-190,-180,-170,-160,-140,-130,-120,-110,-90,-80,-70,-60,-40,-30,-20,-10],"labels":false,"title":null,"tickSize":-2}},"y":{"datum":1.04,"axis":{"orient":"left","values":[-0.1,0.1,0.3,0.5,0.7,0.9,1.1],"labels":false,"title":null,"tickSize":-2}}}},
 {"data":{"values":[{}]},"mark":{"type":"text","baseline":"middle","text":"v=2"},"encoding":{"x":{"datum":-47,"axis":{"orient":"top","values":[-190,-180,-170,-160,-140,-130,-120,-110,-90,-80,-70,-60,-40,-30,-20,-10],"labels":false,"title":null,"tickSize":-2}},"y":{"datum":0.78,"axis":{"orient":"right","values":[-0.1,0.1,0.3,0.5,0.7,0.9,1.1],"labels":false,"title":null,"tickSize":-2}}}},
 {"data":{"values":[{}]},"mark":{"type":"text","baseline":"middle","text":"v=1"},"encoding":{"x":{"datum":-47,"axis":null},"y":{"datum":0.15,"axis":null}}}
]}
]},
{"spacing":10,"hconcat":[
{"width":150,"height":97,"layer":[
 {"data":{"name":"p5b"},"mark":"line","encoding":{"x":{"field":"x","type":"quantitative","scale":{"domain":[143,350],"nice":false,"zero":false},"axis":{"orient":"bottom","values":[150,200,250,300],"title":null,"format":"~r"}},"y":{"field":"y","type":"quantitative","scale":{"domain":[-0.2,0.8],"nice":false,"zero":false},"axis":{"orient":"left","values":[-0.2,0,0.2,0.4,0.6,0.8],"title":"Ta (K)","format":"~r"}}}},
 {"data":{"name":"p5a"},"mark":"line","encoding":{"x":{"field":"x","type":"quantitative","axis":{"orient":"top","values":[150,200,250,300],"labels":false,"title":null}},"y":{"field":"y","type":"quantitative","axis":{"orient":"right","values":[-0.2,0,0.2,0.4,0.6,0.8],"labels":false,"title":null}}}},
 {"data":{"values":[{}]},"mark":{"type":"text","baseline":"top","lineHeight":11,"text":["17422-2748","980511.0"]},"encoding":{"x":{"datum":164,"axis":{"orient":"bottom","values":[160,170,180,190,210,220,230,240,260,270,280,290,310,320,330,340],"labels":false,"title":null,"tickSize":-2}},"y":{"datum":0.72,"axis":{"orient":"left","values":[-0.1,0.1,0.3,0.5,0.7],"labels":false,"title":null,"tickSize":-2}}}},
 {"data":{"values":[{}]},"mark":{"type":"text","baseline":"middle","text":"v=2"},"encoding":{"x":{"datum":285,"axis":{"orient":"top","values":[160,170,180,190,210,220,230,240,260,270,280,290,310,320,330,340],"labels":false,"title":null,"tickSize":-2}},"y":{"datum":0.61,"axis":{"orient":"right","values":[-0.1,0.1,0.3,0.5,0.7],"labels":false,"title":null,"tickSize":-2}}}},
 {"data":{"values":[{}]},"mark":{"type":"text","baseline":"middle","text":"v=1"},"encoding":{"x":{"datum":285,"axis":null},"y":{"datum":0.16,"axis":null}}}
]},
{"width":150,"height":97,"layer":[
 {"data":{"name":"p6b"},"mark":"line","encoding":{"x":{"field":"x","type":"quantitative","scale":{"domain":[-100,100],"nice":false,"zero":false},"axis":{"orient":"bottom","values":[-100,-50,0,50,100],"title":null,"format":"~r"}},"y":{"field":"y","type":"quantitative","scale":{"domain":[-0.2,0.8],"nice":false,"zero":false},"axis":{"orient":"left","values":[-0.2,0,0.2,0.4,0.6,0.8],"title":"Ta (K)","format":"~r"}}}},
 {"data":{"name":"p6a"},"mark":"line","encoding":{"x":{"field":"x","type":"quantitative","axis":{"orient":"top","values":[-100,-50,0,50,100],"labels":false,"title":null}},"y":{"field":"y","type":"quantitative","axis":{"orient":"right","values":[-0.2,0,0.2,0.4,0.6,0.8],"labels":false,"title":null}}}},
 {"data":{"values":[{}]},"mark":{"type":"text","baseline":"top","lineHeight":11,"text":["17423-2539","980509.1"]},"encoding":{"x":{"datum":-82,"axis":{"orient":"bottom","values":[-90,-80,-70,-60,-40,-30,-20,-10,10,20,30,40,60,70,80,90],"labels":false,"title":null,"tickSize":-2}},"y":{"datum":0.76,"axis":{"orient":"left","values":[-0.1,0.1,0.3,0.5,0.7],"labels":false,"title":null,"tickSize":-2}}}},
 {"data":{"values":[{}]},"mark":{"type":"text","baseline":"middle","text":"v=2"},"encoding":{"x":{"datum":59,"axis":{"orient":"top","values":[-90,-80,-70,-60,-40,-30,-20,-10,10,20,30,40,60,70,80,90],"labels":false,"title":null,"tickSize":-2}},"y":{"datum":0.64,"axis":{"orient":"right","values":[-0.1,0.1,0.3,0.5,0.7],"labels":false,"title":null,"tickSize":-2}}}},
 {"data":{"values":[{}]},"mark":{"type":"text","baseline":"middle","text":"v=1"},"encoding":{"x":{"datum":59,"axis":null},"y":{"datum":0.18,"axis":null}}}
]}
]},
{"spacing":10,"hconcat":[
{"width":150,"height":97,"layer":[
 {"data":{"name":"p7b"},"mark":"line","encoding":{"x":{"field":"x","type":"quantitative","scale":{"domain":[-100,100],"nice":false,"zero":false},"axis":{"orient":"bottom","values":[-100,-50,0,50,100],"title":"Vlsr (km/s)","format":"~r"}},"y":{"field":"y","type":"quantitative","scale":{"domain":[-0.2,0.8],"nice":false,"zero":false},"axis":{"orient":"left","values":[-0.2,0,0.2,0.4,0.6,0.8],"title":"Ta (K)","format":"~r"}}}},
 {"data":{"name":"p7a"},"mark":"line","encoding":{"x":{"field":"x","type":"quantitative","axis":{"orient":"top","values":[-100,-50,0,50,100],"labels":false,"title":null}},"y":{"field":"y","type":"quantitative","axis":{"orient":"right","values":[-0.2,0,0.2,0.4,0.6,0.8],"labels":false,"title":null}}}},
 {"data":{"values":[{}]},"mark":{"type":"text","baseline":"top","lineHeight":11,"text":["17429-2935","980408.2"]},"encoding":{"x":{"datum":-80,"axis":{"orient":"bottom","values":[-90,-80,-70,-60,-40,-30,-20,-10,10,20,30,40,60,70,80,90],"labels":false,"title":null,"tickSize":-2}},"y":{"datum":0.75,"axis":{"orient":"left","values":[-0.1,0.1,0.3,0.5,0.7],"labels":false,"title":null,"tickSize":-2}}}},
 {"data":{"values":[{}]},"mark":{"type":"text","baseline":"middle","text":"v=2"},"encoding":{"x":{"datum":37,"axis":{"orient":"top","values":[-90,-80,-70,-60,-40,-30,-20,-10,10,20,30,40,60,70,80,90],"labels":false,"title":null,"tickSize":-2}},"y":{"datum":0.61,"axis":{"orient":"right","values":[-0.1,0.1,0.3,0.5,0.7],"labels":false,"title":null,"tickSize":-2}}}},
 {"data":{"values":[{}]},"mark":{"type":"text","baseline":"middle","text":"v=1"},"encoding":{"x":{"datum":37,"axis":null},"y":{"datum":0.18,"axis":null}}}
]},
{"width":150,"height":97,"layer":[
 {"data":{"name":"p8b"},"mark":"line","encoding":{"x":{"field":"x","type":"quantitative","scale":{"domain":[-205,12],"nice":false,"zero":false},"axis":{"orient":"bottom","values":[-150,-100,-50,0],"title":"Vlsr (km/s)","format":"~r"}},"y":{"field":"y","type":"quantitative","scale":{"domain":[-0.2,1.2],"nice":false,"zero":false},"axis":{"orient":"left","values":[-0.2,0,0.2,0.4,0.6,0.8,1,1.2],"title":"Ta (K)","format":"~r"}}}},
 {"data":{"name":"p8a"},"mark":"line","encoding":{"x":{"field":"x","type":"quantitative","axis":{"orient":"top","values":[-150,-100,-50,0],"labels":false,"title":null}},"y":{"field":"y","type":"quantitative","axis":{"orient":"right","values":[-0.2,0,0.2,0.4,0.6,0.8,1,1.2],"labels":false,"title":null}}}},
 {"data":{"values":[{}]},"mark":{"type":"text","baseline":"top","lineHeight":11,"text":["17430-3105","980511.1"]},"encoding":{"x":{"datum":-185,"axis":{"orient":"bottom","values":[-200,-190,-180,-170,-160,-140,-130,-120,-110,-90,-80,-70,-60,-40,-30,-20,-10,10],"labels":false,"title":null,"tickSize":-2}},"y":{"datum":1.08,"axis":{"orient":"left","values":[-0.1,0.1,0.3,0.5,0.7,0.9,1.1],"labels":false,"title":null,"tickSize":-2}}}},
 {"data":{"values":[{}]},"mark":{"type":"text","baseline":"middle","text":"v=2"},"encoding":{"x":{"datum":-43,"axis":{"orient":"top","values":[-200,-190,-180,-170,-160,-140,-130,-120,-110,-90,-80,-70,-60,-40,-30,-20,-10,10],"labels":false,"title":null,"tickSize":-2}},"y":{"datum":0.9,"axis":{"orient":"right","values":[-0.1,0.1,0.3,0.5,0.7,0.9,1.1],"labels":false,"title":null,"tickSize":-2}}}},
 {"data":{"values":[{}]},"mark":{"type":"text","baseline":"middle","text":"v=1"},"encoding":{"x":{"datum":-43,"axis":null},"y":{"datum":0.23,"axis":null}}}
]}
]}
]
}
